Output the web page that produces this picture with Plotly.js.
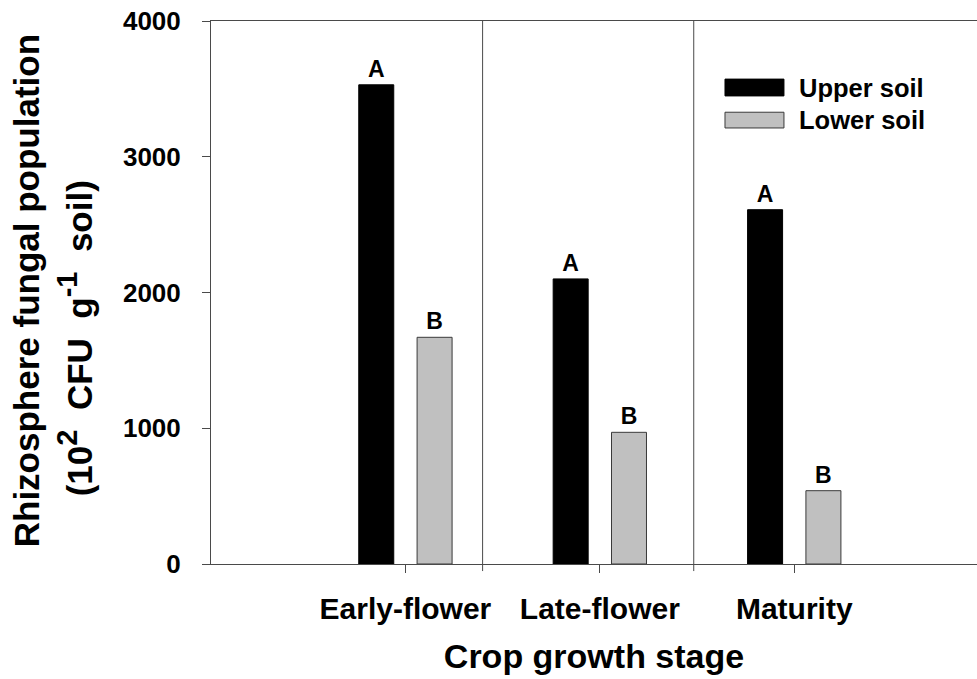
<!DOCTYPE html>
<html>
<head>
<meta charset="utf-8">
<script src="https://cdn.plot.ly/plotly-3.0.1.min.js"></script>
<style>
  html, body { margin: 0; padding: 0; background: #ffffff; }
  #chart { width: 977px; height: 679px; }
</style>
</head>
<body>
<div id="chart"></div>
<script>
// Rhizosphere fungal population by crop growth stage and soil depth
const stages = ['Early-flower', 'Late-flower', 'Maturity'];
const upperSoil = [3530, 2100, 2610];
const lowerSoil = [1670, 970, 540];
const upperLetters = ['A', 'A', 'A'];
const lowerLetters = ['B', 'B', 'B'];
const seriesNames = ['Upper soil', 'Lower soil'];
const yTicks = [0, 1000, 2000, 3000, 4000];

const FONT = 'Liberation Sans, Arial, sans-serif';
const AXIS = '#4a4a4a';
const NB = '\u00a0';

const traces = [
  {
    type: 'bar', name: seriesNames[0], x: stages, y: upperSoil,
    marker: { color: '#000000', line: { color: '#000000', width: 1 } },
    text: upperLetters, textposition: 'outside', constraintext: 'none',
    textfont: { family: FONT, size: 23, color: '#000000', weight: 'bold' },
    cliponaxis: false, hoverinfo: 'x+y'
  },
  {
    type: 'bar', name: seriesNames[1], x: stages, y: lowerSoil,
    marker: { color: '#c0c0c0', line: { color: '#3a3a3a', width: 1 } },
    text: lowerLetters, textposition: 'outside', constraintext: 'none',
    textfont: { family: FONT, size: 23, color: '#000000', weight: 'bold' },
    cliponaxis: false, hoverinfo: 'x+y'
  }
];

// stage dividers (slightly below the baseline, like tick marks)
const dividers = [0.397, 1.483].map(xv => ({
  type: 'line', xref: 'x', yref: 'paper', x0: xv, x1: xv, y0: -0.013, y1: 1,
  line: { color: AXIS, width: 1 }
}));

// hand-built legend: swatches + labels
const legendShapes = [
  { type: 'rect', xref: 'paper', yref: 'paper', x0: 0.671, x1: 0.748, y0: 0.862, y1: 0.893,
    fillcolor: '#000000', line: { color: '#000000', width: 1 } },
  { type: 'rect', xref: 'paper', yref: 'paper', x0: 0.671, x1: 0.748, y0: 0.803, y1: 0.832,
    fillcolor: '#c0c0c0', line: { color: '#3a3a3a', width: 1 } }
];
const legendLabels = seriesNames.map((name, i) => ({
  xref: 'paper', yref: 'paper', x: 0.765, y: i === 0 ? 0.877 : 0.818,
  xanchor: 'left', yanchor: 'middle', showarrow: false, text: name,
  font: { family: FONT, size: 25.5, color: '#000000', weight: 'bold' }
}));

// two-line rotated y-axis title
const sup = s => '<sup><span style="font-size:29px">' + s + '</span></sup>';
const yTitle = [
  { text: 'Rhizosphere fungal population', x: -0.241, y: 0.503 },
  { text: '(10' + sup('2') + NB + ' CFU' + NB + ' g' + sup('-1') + NB + ' soil)', x: -0.178, y: 0.415 }
].map(t => ({
  xref: 'paper', yref: 'paper', x: t.x, y: t.y, xanchor: 'center', yanchor: 'middle',
  textangle: -90, showarrow: false, text: t.text,
  font: { family: FONT, size: 35, color: '#000000', weight: 'bold' }
}));

const layout = {
  width: 977, height: 679,
  margin: { l: 211, r: 0, t: 21, b: 115, pad: 0 },
  paper_bgcolor: '#ffffff', plot_bgcolor: '#ffffff',
  font: { family: FONT, color: '#000000', weight: 'bold' },
  showlegend: false,
  barmode: 'group', bargap: 0.4, bargroupgap: 0.4,
  xaxis: {
    type: 'category', range: [-1, 2.94], fixedrange: true,
    showline: true, mirror: true, linecolor: AXIS, linewidth: 1,
    showgrid: false, zeroline: false,
    ticks: 'outside', ticklen: 8, tickcolor: AXIS, tickwidth: 1,
    ticklabelstandoff: 10,
    tickfont: { family: FONT, size: 30, color: '#000000', weight: 'bold' },
    title: { text: 'Crop growth stage', standoff: 20,
             font: { family: FONT, size: 34, color: '#000000', weight: 'bold' } },
    automargin: false
  },
  yaxis: {
    range: [0, 4000], fixedrange: true,
    tickvals: yTicks, ticktext: yTicks.map(String),
    showline: true, mirror: false, linecolor: AXIS, linewidth: 1,
    showgrid: false, zeroline: false,
    ticks: 'outside', ticklen: 8, tickcolor: AXIS, tickwidth: 1,
    ticklabelstandoff: 16,
    tickfont: { family: FONT, size: 26, color: '#000000', weight: 'bold' },
    automargin: false
  },
  shapes: dividers.concat(legendShapes),
  annotations: legendLabels.concat(yTitle)
};

Plotly.newPlot('chart', traces, layout, { displayModeBar: false, staticPlot: true });
</script>
</body>
</html>
